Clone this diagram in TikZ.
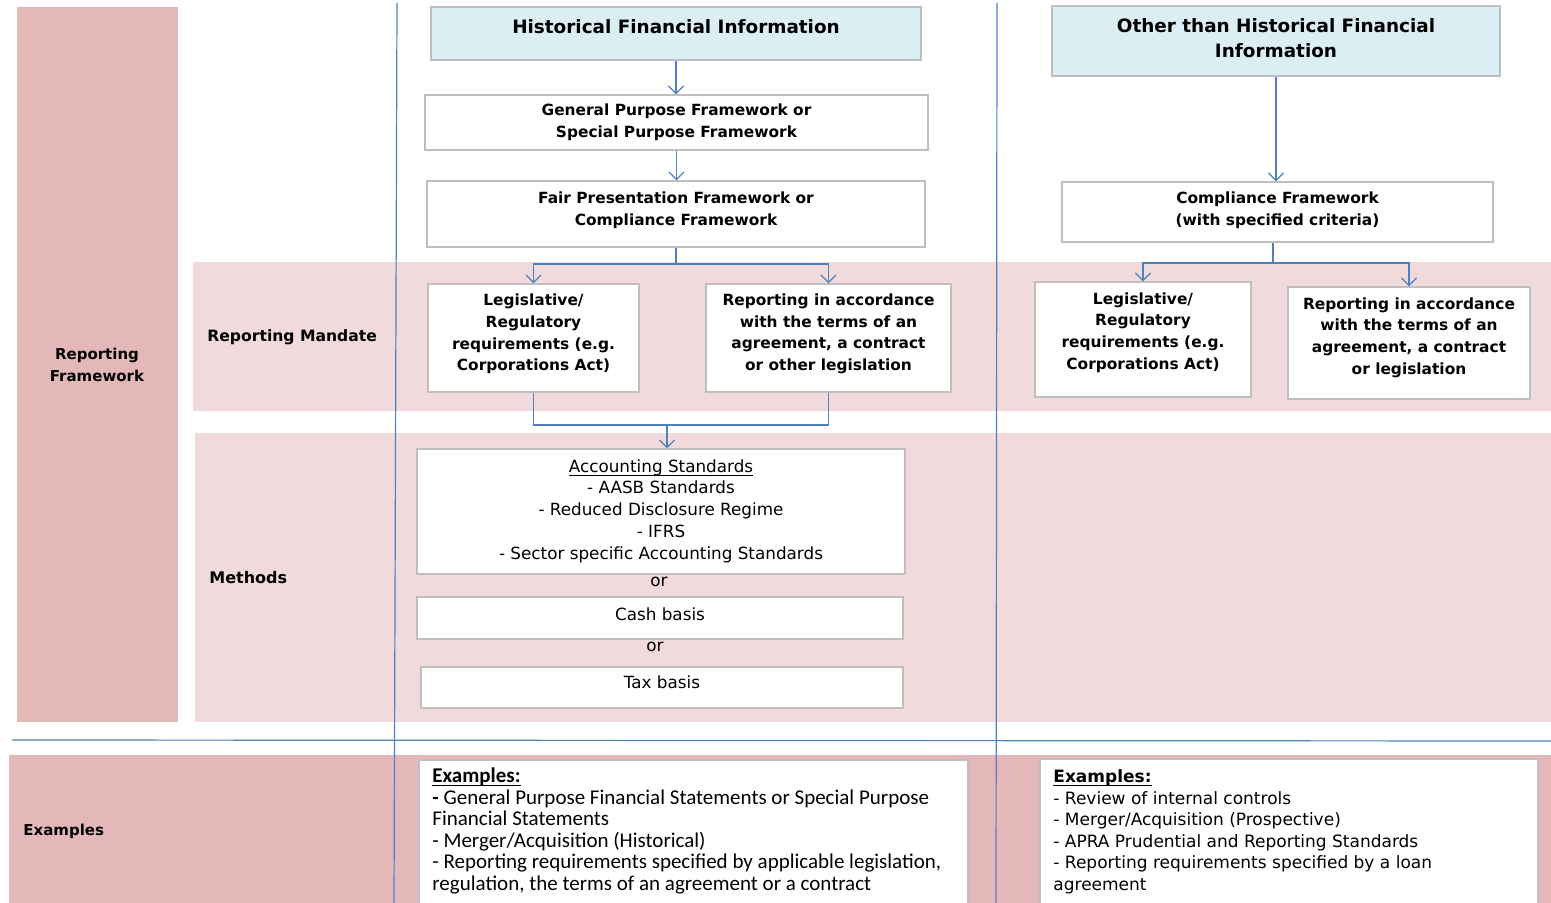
\documentclass[tikz,border=0pt]{standalone}
\usepackage{fontspec}
\setmainfont{DejaVu Sans}
\newfontfamily\calfont{Carlito}
\newcommand\myul[1]{\underline{\smash{#1}}}
\usetikzlibrary{arrows.meta}
\definecolor{darkpink}{HTML}{E4B8B8}
\definecolor{lightpink}{HTML}{F0DADB}
\definecolor{lightblue}{HTML}{DBEEF3}
\definecolor{boxgray}{HTML}{BFBFBF}
\definecolor{lineblue}{HTML}{4F81BD}
\tikzset{
  wbox/.style={draw=boxgray, line width=0.6pt, fill=white, inner sep=0pt},
  tbox/.style={draw=boxgray, line width=0.6pt, fill=lightblue, inner sep=0pt},
  btxt/.style={align=center, inner sep=0pt, font=\fontsize{7.7}{10.8}\selectfont\bfseries},
  ttxt/.style={align=center, inner sep=0pt, font=\fontsize{9.2}{12.5}\selectfont\bfseries},
  rtxt/.style={align=center, inner sep=0pt, font=\fontsize{8.4}{10.9}\selectfont},
  lbl/.style={font=\fontsize{7.5}{11}\selectfont\bfseries, align=center, inner sep=0pt},
  conn/.style={draw=lineblue, line width=0.6pt},
  arr/.style={conn, -{Straight Barb[length=3.8pt,width=7.5pt]}},
  guide/.style={draw=lineblue, line width=0.6pt},
}
\begin{document}
\begin{tikzpicture}[x=0.5pt,y=-0.5pt]
\useasboundingbox (0,0) rectangle (1551,903);
% bands
\fill[darkpink] (17,7) rectangle (178,722);
\fill[lightpink] (193,262) rectangle (1551,411);
\fill[lightpink] (195,433) rectangle (1551,722);
\fill[darkpink] (9,755) rectangle (1551,903);
% guide lines
\draw[guide] (397,3) -- (394,903);
\draw[guide] (997,3) -- (996,903);
\draw[guide] (12,740) -- (1551,741);
% labels
\node[lbl] (rf) at (97,365) {Reporting\\Framework};
\node[lbl, anchor=west, font=\fontsize{7.8}{11}\selectfont\bfseries] (rm) at (207,337) {Reporting Mandate};
\node[lbl, anchor=west, font=\fontsize{8}{11}\selectfont\bfseries] (me) at (209,578) {Methods};
\node[lbl, anchor=west] (ex) at (23,831) {Examples};
% left column boxes
\node[tbox, minimum width=245pt, minimum height=26.5pt] (hfi) at (676,33.5) {};
\node[ttxt] (hfit) at ([yshift=3.5pt]hfi.center) {Historical Financial Information};
\node[wbox, minimum width=251.5pt, minimum height=27.5pt] (gpf) at (676.5,122.5) {};
\node[btxt] (gpft) at (gpf.center) {General Purpose Framework or\\Special Purpose Framework};
\node[wbox, minimum width=249pt, minimum height=33pt] (fpf) at (676,214) {};
\node[btxt] (fpft) at ([yshift=1.75pt]fpf.center) {Fair Presentation Framework or\\Compliance Framework};
\node[wbox, minimum width=105.5pt, minimum height=54pt] (leg) at (533.5,338) {};
\node[btxt] (legt) at ([yshift=2pt]leg.center) {Legislative/\\Regulatory\\requirements (e.g.\\Corporations Act)};
\node[wbox, minimum width=122.5pt, minimum height=54pt] (rep) at (828.5,338) {};
\node[btxt] (rept) at ([yshift=2pt]rep.center) {Reporting in accordance\\with the terms of an\\agreement, a contract\\or other legislation};
\node[wbox, minimum width=244pt, minimum height=62.5pt] (acc) at (661,511.5) {};
\node[rtxt] (acct) at ([yshift=-3pt]acc.center) {\myul{Accounting Standards}\\- AASB Standards\\- Reduced Disclosure Regime\\- IFRS\\- Sector specific Accounting Standards};
\node[rtxt] (or1) at (659,582) {or};
\node[wbox, minimum width=243pt, minimum height=21pt] (cash) at (660,618) {};
\node[rtxt] (casht) at ([yshift=1.75pt]cash.center) {Cash basis};
\node[rtxt] (or2) at (655,647) {or};
\node[wbox, minimum width=241pt, minimum height=20.5pt] (tax) at (662,687.5) {};
\node[rtxt] (taxt) at ([yshift=2.5pt]tax.center) {Tax basis};
% right column boxes
\node[tbox, minimum width=224pt, minimum height=35pt] (ohfi) at (1276,41) {};
\node[ttxt] (ohfit) at ([yshift=1.5pt]ohfi.center) {Other than Historical Financial\\Information};
\node[wbox, minimum width=215.5pt, minimum height=30pt] (comp) at (1277.5,212) {};
\node[btxt] (compt) at ([yshift=0.75pt]comp.center) {Compliance Framework\\(with specified criteria)};
\node[wbox, minimum width=108pt, minimum height=57.5pt] (legr) at (1143,339.5) {};
\node[btxt] (legrt) at ([yshift=3.5pt]legr.center) {Legislative/\\Regulatory\\requirements (e.g.\\Corporations Act)};
\node[wbox, minimum width=121pt, minimum height=56pt] (repr) at (1409,343) {};
\node[btxt] (reprt) at ([yshift=2.75pt]repr.center) {Reporting in accordance\\with the terms of an\\agreement, a contract\\or legislation};
% examples
\node[wbox, minimum width=274.5pt, minimum height=73pt] (exl) at (693.5,833) {};
\node[anchor=north west, align=left, inner sep=0pt, font=\calfont\fontsize{10.5}{10.8}\selectfont] (exlt) at (432,782) {\textbf{\myul{Examples:}}\\\textbf{-} General Purpose Financial Statements or Special Purpose\\Financial Statements\\- Merger/Acquisition (Historical)\\- Reporting requirements specified by applicable legislation,\\regulation, the terms of an agreement or a contract};
\node[wbox, minimum width=249pt, minimum height=73.5pt] (exr) at (1289,832.5) {};
\node[anchor=north west, align=left, inner sep=0pt, font=\fontsize{8.5}{10.8}\selectfont] (exrt) at (1053,782) {\textbf{\myul{Examples:}}\\- Review of internal controls\\- Merger/Acquisition (Prospective)\\- APRA Prudential and Reporting Standards\\- Reporting requirements specified by a loan\\agreement};
% connectors left
\draw[arr] (hfi.south) -- (hfi.south |- gpf.north);
\draw[arr] (gpf.south) -- (gpf.south |- fpf.north);
\coordinate (s1) at (676,264);
\draw[conn] (fpf.south) -- (s1);
\draw[arr] (s1) -| (leg.north);
\draw[arr] (s1) -| (rep.north);
\coordinate (j1) at (667,425);
\draw[conn] (leg.south) |- (j1) -| (rep.south);
\draw[arr] (j1) -- (j1 |- acc.north);
% connectors right
\draw[arr] (ohfi.south) -- (ohfi.south |- comp.north);
\coordinate (s2) at (1273,263);
\draw[conn] (comp.south -| s2) -- (s2);
\draw[arr] (s2) -| (legr.north);
\draw[arr] (s2) -| (repr.north);
\end{tikzpicture}
\end{document}
